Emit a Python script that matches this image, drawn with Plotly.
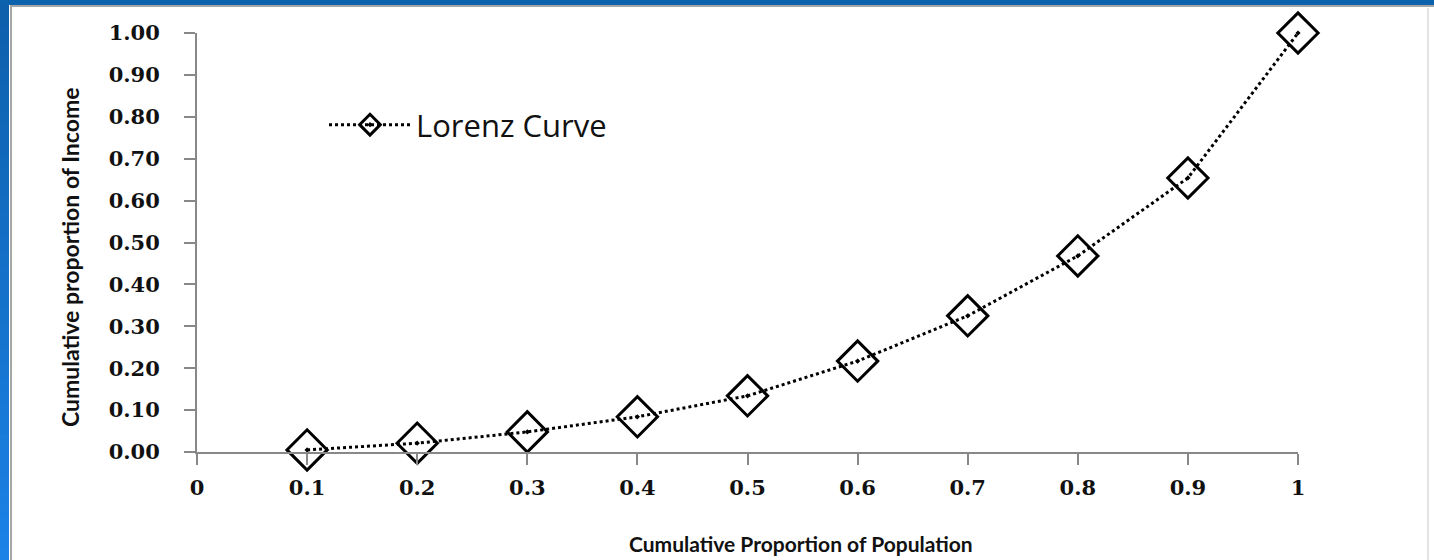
import plotly.graph_objects as go

# Lorenz curve data: cumulative population share vs cumulative income share
population_share = [0.1, 0.2, 0.3, 0.4, 0.5, 0.6, 0.7, 0.8, 0.9, 1.0]
income_share = [0.005, 0.021, 0.048, 0.084, 0.134, 0.217, 0.325, 0.468, 0.654, 1.0]

x_ticks = [0, 0.1, 0.2, 0.3, 0.4, 0.5, 0.6, 0.7, 0.8, 0.9, 1.0]
x_tick_labels = ["0", "0.1", "0.2", "0.3", "0.4", "0.5", "0.6", "0.7", "0.8", "0.9", "1"]
y_ticks = [0.0, 0.1, 0.2, 0.3, 0.4, 0.5, 0.6, 0.7, 0.8, 0.9, 1.0]
y_tick_labels = ["0.00", "0.10", "0.20", "0.30", "0.40", "0.50", "0.60", "0.70", "0.80", "0.90", "1.00"]

W, H = 1434, 560
L, R, T, B = 197, 136, 33, 108
PW, PH = W - L - R, H - T - B


def px(x):
    return (x - L) / PW


def py(y):
    return (H - B - y) / PH


fig = go.Figure()
fig.add_trace(go.Scatter(
    x=population_share, y=income_share,
    mode="lines+markers",
    name="Lorenz Curve",
    line=dict(color="black", width=3, dash="dot"),
    marker=dict(symbol="diamond-open-dot", size=31, color="black",
                line=dict(color="black", width=3)),
    cliponaxis=False,
))

# Slide-style frame: blue gradient bar on the left, blue strip on top, grey inner rules
shapes = []
n = 40
c0, c1 = (14, 96, 172), (28, 130, 230)
for i in range(n):
    t = i / (n - 1)
    col = "rgb(%d,%d,%d)" % tuple(int(a + (b - a) * t) for a, b in zip(c0, c1))
    shapes.append(dict(type="rect", xref="paper", yref="paper", layer="below",
                       x0=px(0), x1=px(9), y0=py(H * i / n), y1=py(H * (i + 1) / n + 1),
                       fillcolor=col, line=dict(width=0)))
shapes.append(dict(type="rect", xref="paper", yref="paper", layer="below",
                   x0=px(0), x1=px(W), y0=py(0), y1=py(5),
                   fillcolor="rgb(12,98,172)", line=dict(width=0)))
shapes.append(dict(type="line", xref="paper", yref="paper", layer="below",
                   x0=px(11), x1=px(11), y0=py(6), y1=py(H),
                   line=dict(color="#a6a6a6", width=2)))
shapes.append(dict(type="line", xref="paper", yref="paper", layer="below",
                   x0=px(10), x1=px(W), y0=py(6), y1=py(6),
                   line=dict(color="#a6a6a6", width=2)))
shapes.append(dict(type="line", xref="paper", yref="paper", layer="below",
                   x0=px(1428), x1=px(1428), y0=py(8), y1=py(H),
                   line=dict(color="#e4e4e4", width=2)))

tick_font = dict(family="DejaVu Serif", size=21, color="#111", weight="bold")

fig.update_layout(
    width=W, height=H,
    margin=dict(l=L, r=R, t=T, b=B),
    paper_bgcolor="white", plot_bgcolor="white",
    shapes=shapes,
    showlegend=True,
    legend=dict(x=px(324), y=py(125), xanchor="left", yanchor="middle",
                bgcolor="rgba(0,0,0,0)", itemwidth=82,
                font=dict(family="Open Sans", size=31, color="#111")),
    xaxis=dict(range=[0, 1], tickmode="array", tickvals=x_ticks, ticktext=x_tick_labels,
               showgrid=False, zeroline=False, showline=True, linecolor="#888", linewidth=2,
               ticks="outside", ticklen=11, tickwidth=2, tickcolor="#888",
               tickfont=tick_font, ticklabelstandoff=5),
    yaxis=dict(range=[0, 1], tickmode="array", tickvals=y_ticks, ticktext=y_tick_labels,
               showgrid=False, zeroline=False, showline=True, linecolor="#888", linewidth=2,
               ticks="outside", ticklen=11, tickwidth=2, tickcolor="#888",
               tickfont=tick_font, ticklabelstandoff=20),
    annotations=[
        dict(text="Cumulative Proportion of Population", xref="paper", yref="paper",
             x=px(801), y=py(543), xanchor="center", yanchor="middle", showarrow=False,
             font=dict(family="Lato", size=21, color="#111", weight="bold")),
        dict(text="Cumulative proportion of Income", xref="paper", yref="paper",
             x=px(70), y=py(258), xanchor="center", yanchor="middle", showarrow=False,
             textangle=-90,
             font=dict(family="Lato", size=23, color="#111", weight="bold")),
    ],
)

fig.write_html("out.html")
